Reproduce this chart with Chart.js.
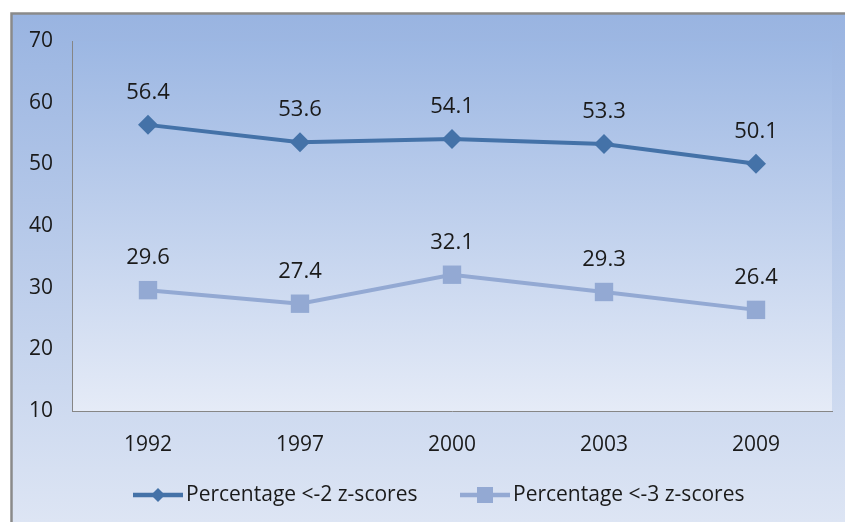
<!DOCTYPE html>
<html>
<head>
<meta charset="utf-8">
<title>Percentage z-scores</title>
<script src="https://cdn.jsdelivr.net/npm/chart.js@4.4.1/dist/chart.umd.min.js"></script>
<style>
  html, body { margin:0; padding:0; background:#fff; }
  #wrap { width:845px; height:522px; position:relative; }
</style>
</head>
<body>
<div id="wrap"><canvas id="chart" width="845" height="522"></canvas></div>
<script>
/* ---------- data ---------- */
const years = ['1992', '1997', '2000', '2003', '2009'];
const below2 = [56.4, 53.6, 54.1, 53.3, 50.1];
const below3 = [29.6, 27.4, 32.1, 29.3, 26.4];
const seriesNames = ['Percentage <-2 z-scores', 'Percentage <-3 z-scores'];
const yMin = 10, yMax = 70, yStep = 10;

const DARK = '#4472a8';
const LIGHT = '#93a9d3';
const FONT = '"Open Sans", Lato, sans-serif';

/* ---------- backgrounds (chart box + plot area) ---------- */
const backdrop = {
  id: 'backdrop',
  beforeDraw(chart) {
    const { ctx, width, height, chartArea: a } = chart;
    ctx.save();
    ctx.fillStyle = '#fff';
    ctx.fillRect(0, 0, width, height);

    let g = ctx.createLinearGradient(0, 14, 0, height);
    g.addColorStop(0, '#99b4e1');
    g.addColorStop(1, '#dde5f4');
    ctx.fillStyle = g;
    ctx.fillRect(12, 14, width - 12, height - 14);

    g = ctx.createLinearGradient(0, a.top, 0, a.bottom);
    g.addColorStop(0, '#9cb7e3');
    g.addColorStop(1, '#e5ebf7');
    ctx.fillStyle = g;
    ctx.fillRect(a.left, a.top, a.right - a.left, a.bottom - a.top);

    // outer frame
    ctx.strokeStyle = '#8a8a8a';
    ctx.lineWidth = 2.5;
    ctx.beginPath();
    ctx.moveTo(11.5, height);
    ctx.lineTo(11.5, 13.5);
    ctx.lineTo(width, 13.5);
    ctx.stroke();
    ctx.restore();
  }
};

/* ---------- value labels above the points ---------- */
const valueLabels = {
  id: 'valueLabels',
  afterDatasetsDraw(chart) {
    const { ctx } = chart;
    ctx.save();
    ctx.font = '22px ' + FONT;
    ctx.fillStyle = '#1a1a1a';
    ctx.textAlign = 'center';
    ctx.textBaseline = 'middle';
    chart.data.datasets.forEach((ds, i) => {
      chart.getDatasetMeta(i).data.forEach((pt, j) => {
        ctx.fillText(ds.data[j].toFixed(1), pt.x, pt.y - 32);
      });
    });
    ctx.restore();
  }
};

/* ---------- legend: line with marker, then name ---------- */
function legendMarker(ctx, shape, x, y, color) {
  ctx.fillStyle = color;
  ctx.beginPath();
  if (shape === 'diamond') {
    ctx.moveTo(x, y - 7); ctx.lineTo(x + 7, y); ctx.lineTo(x, y + 7); ctx.lineTo(x - 7, y);
    ctx.closePath();
  } else {
    ctx.rect(x - 8, y - 8, 16, 16);
  }
  ctx.fill();
}
const bottomLegend = {
  id: 'bottomLegend',
  afterDraw(chart) {
    const { ctx } = chart;
    const y = 495;
    const items = [
      { x0: 133, x1: 183, shape: 'diamond', color: DARK, text: seriesNames[0] },
      { x0: 460, x1: 510, shape: 'square', color: LIGHT, text: seriesNames[1] }
    ];
    ctx.save();
    items.forEach(it => {
      ctx.strokeStyle = it.color;
      ctx.lineWidth = 4.5;
      ctx.beginPath(); ctx.moveTo(it.x0, y); ctx.lineTo(it.x1, y); ctx.stroke();
      legendMarker(ctx, it.shape, (it.x0 + it.x1) / 2, y, it.color);
      ctx.fillStyle = '#1a1a1a';
      ctx.font = '21px ' + FONT;
      ctx.textAlign = 'left';
      ctx.textBaseline = 'middle';
      ctx.fillText(it.text, it.x1 + 3, y);
    });
    ctx.restore();
  }
};

/* ---------- chart ---------- */
new Chart(document.getElementById('chart'), {
  type: 'line',
  data: {
    labels: years,
    datasets: [
      {
        label: seriesNames[0], data: below2,
        borderColor: DARK, backgroundColor: DARK, borderWidth: 4,
        pointStyle: 'rectRot', pointRadius: 10, pointHoverRadius: 10,
        pointBorderWidth: 0, tension: 0
      },
      {
        label: seriesNames[1], data: below3,
        borderColor: LIGHT, backgroundColor: LIGHT, borderWidth: 4,
        pointStyle: 'rect', pointRadius: 13, pointHoverRadius: 13,
        pointBorderWidth: 0, tension: 0
      }
    ]
  },
  options: {
    responsive: false,
    animation: false,
    events: [],
    layout: { padding: { top: 41, right: 12, left: 0, bottom: 0 } },
    plugins: { legend: { display: false }, tooltip: { enabled: false } },
    scales: {
      x: {
        offset: true,
        grid: { display: false, drawTicks: false },
        border: { display: true, color: '#868686', width: 1 },
        ticks: { color: '#1a1a1a', font: { family: FONT, size: 21 }, padding: 21 },
        afterFit(s) { s.height = 111; }
      },
      y: {
        min: yMin, max: yMax,
        grid: { display: false, drawTicks: false },
        border: { display: true, color: '#868686', width: 1 },
        ticks: { stepSize: yStep, color: '#1a1a1a', font: { family: FONT, size: 21 }, padding: 19 },
        afterFit(s) { s.width = 72; }
      }
    }
  },
  plugins: [backdrop, valueLabels, bottomLegend]
});
</script>
</body>
</html>
